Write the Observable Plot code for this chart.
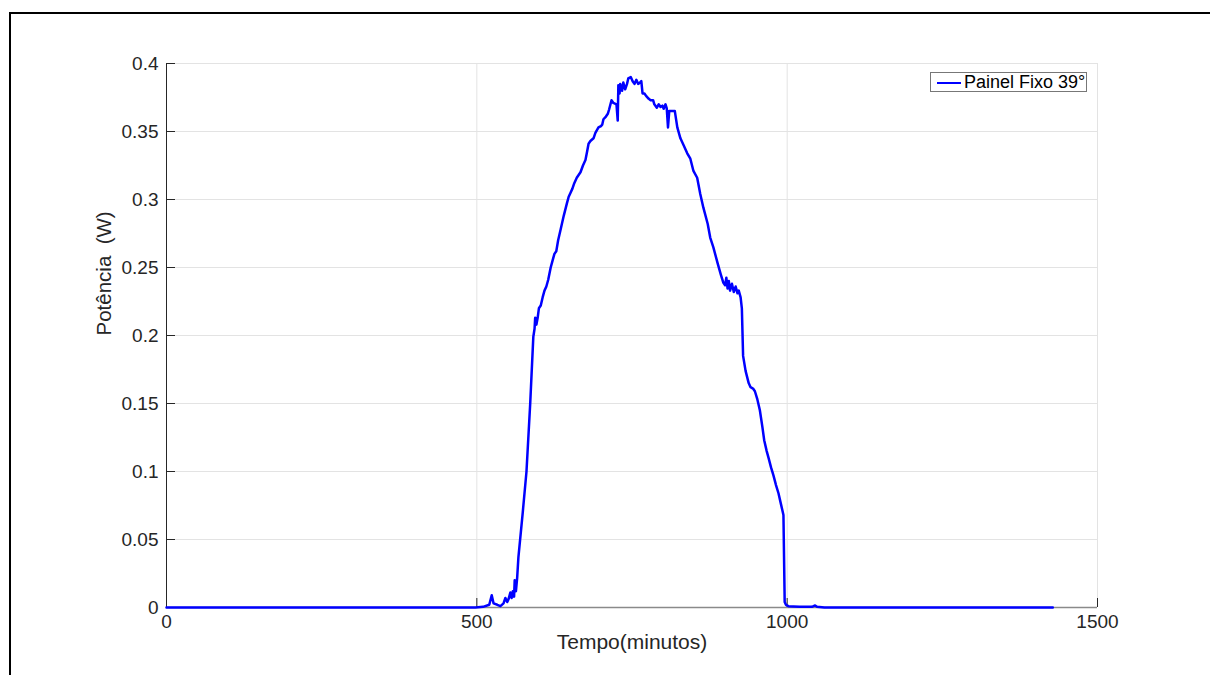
<!DOCTYPE html>
<html>
<head>
<meta charset="utf-8">
<script src="https://cdn.jsdelivr.net/npm/d3@7"></script>
<script src="https://cdn.jsdelivr.net/npm/@observablehq/plot@0.6"></script>
<style>
  html, body { margin: 0; padding: 0; background: #fff; }
  #wrap { position: relative; width: 1210px; height: 675px; overflow: hidden; font-family: "Liberation Sans", Arial, Helvetica, sans-serif; }
  #frame { position: absolute; left: 9px; top: 12px; width: 1300px; height: 800px; border-left: 2px solid #000; border-top: 2px solid #000; }
  #chart { position: absolute; left: 0; top: 0; }
  #legend { position: absolute; left: 930px; top: 72px; width: 157px; height: 20px; border: 1px solid #777; background: #fff; box-sizing: border-box; }
  #legend .sw { position: absolute; left: 6px; top: 9px; width: 24px; height: 0; border-top: 2.5px solid #0000ff; }
  #legend .lb { position: absolute; left: 33px; top: -2px; font-size: 18px; color: #000; white-space: nowrap; line-height: 22px; }
</style>
</head>
<body>
<div id="wrap">
  <div id="frame"></div>
  <div id="chart"></div>
  <div id="legend"><div class="sw"></div><div class="lb"></div></div>
</div>
<script>
// Time in minutes and power in W
const minutes = [0, 498, 510, 520, 524, 527, 533, 538, 543, 546, 549, 551, 554, 556, 558, 560, 561, 563, 565, 567, 574, 580, 586, 591, 593, 594, 596, 598, 600, 603, 606, 609, 612, 615, 619, 622, 625, 628, 631, 635, 640, 645, 648, 651, 654, 657, 661, 664, 667, 671, 675, 678, 680, 683, 688, 691, 696, 700, 702, 704, 708, 711, 713, 717, 720, 725, 727, 728, 730, 731, 734, 736, 739, 742, 744, 748, 751, 754, 757, 760, 763, 765, 767, 770, 773, 777, 780, 784, 786, 790, 793, 796, 799, 801, 804, 806, 808, 810, 815, 819, 823, 828, 833, 839, 844, 849, 855, 860, 865, 872, 876, 881, 888, 893, 897, 900, 902, 904, 906, 908, 911, 914, 917, 920, 922, 925, 927, 929, 933, 938, 941, 945, 948, 952, 956, 960, 963, 967, 970, 974, 978, 982, 986, 990, 994, 996, 998, 1002, 1010, 1020, 1040, 1045, 1048, 1060, 1428];
const power = [0, 0, 0.0005, 0.002, 0.009, 0.003, 0.002, 0.001, 0.003, 0.007, 0.004, 0.006, 0.011, 0.007, 0.012, 0.008, 0.02, 0.012, 0.022, 0.037, 0.07, 0.1, 0.15, 0.199, 0.205, 0.213, 0.208, 0.213, 0.22, 0.222, 0.228, 0.233, 0.236, 0.241, 0.25, 0.255, 0.26, 0.262, 0.27, 0.278, 0.288, 0.297, 0.302, 0.305, 0.308, 0.312, 0.316, 0.318, 0.32, 0.325, 0.329, 0.336, 0.341, 0.343, 0.345, 0.349, 0.353, 0.354, 0.355, 0.359, 0.361, 0.363, 0.366, 0.373, 0.371, 0.37, 0.358, 0.384, 0.378, 0.385, 0.38, 0.386, 0.381, 0.385, 0.389, 0.39, 0.387, 0.385, 0.388, 0.385, 0.386, 0.387, 0.378, 0.378, 0.376, 0.374, 0.373, 0.373, 0.37, 0.3675, 0.37, 0.368, 0.369, 0.3667, 0.37, 0.367, 0.353, 0.365, 0.365, 0.365, 0.353, 0.345, 0.34, 0.334, 0.33, 0.321, 0.316, 0.304, 0.294, 0.282, 0.272, 0.265, 0.253, 0.245, 0.239, 0.237, 0.2425, 0.2345, 0.24, 0.233, 0.238, 0.232, 0.236, 0.231, 0.233, 0.228, 0.22, 0.185, 0.174, 0.165, 0.162, 0.161, 0.159, 0.153, 0.145, 0.133, 0.123, 0.115, 0.11, 0.103, 0.097, 0.09, 0.084, 0.076, 0.068, 0.004, 0.002, 0.001, 0.0008, 0.0005, 0.0005, 0.0015, 0.0005, 0, 0];

const xTicks = [0, 500, 1000, 1500];
const yTicks = [0, 0.05, 0.1, 0.15, 0.2, 0.25, 0.3, 0.35, 0.4];
const xTickLabels = ["0", "500", "1000", "1500"];
const yTickLabels = ["0", "0.05", "0.1", "0.15", "0.2", "0.25", "0.3", "0.35", "0.4"];
const xTitle = "Tempo(minutos)";
const yTitle = "Potência\u00a0 (W)";
const seriesName = "Painel Fixo 39°";

const data = minutes.map((m, i) => ({minute: m, power: power[i]}));

const W = 1210, H = 675;
const mL = 166, mR = 113, mT = 63, mB = 68;
const plotW = W - mL - mR, plotH = H - mT - mB;
const tickLen = 9;
const ink = "#262626";

const chart = Plot.plot({
  width: W,
  height: H,
  marginLeft: mL,
  marginRight: mR,
  marginTop: mT,
  marginBottom: mB,
  style: {fontFamily: '"Liberation Sans", Arial, Helvetica, sans-serif', background: "transparent"},
  x: {domain: [0, 1500]},
  y: {domain: [0, 0.4]},
  marks: [
    // grid
    Plot.ruleY(yTicks, {stroke: "#e3e3e3", strokeWidth: 1}),
    Plot.ruleX(xTicks, {stroke: "#e3e3e3", strokeWidth: 1}),
    // axis lines
    Plot.ruleX([0], {stroke: ink, strokeWidth: 1}),
    Plot.ruleY([0], {stroke: "#8a8a8a", strokeWidth: 1.5}),
    // inward tick marks
    Plot.tickY(yTicks, {y: d => d, stroke: ink, strokeWidth: 1, insetRight: plotW - tickLen}),
    Plot.tickX(xTicks, {x: d => d, stroke: ink, strokeWidth: 1, insetTop: plotH - tickLen}),
    // tick labels
    Plot.axisY(yTicks, {tickSize: 0, tickPadding: 8, fontSize: 19, color: ink, label: null, tickFormat: (d, i) => yTickLabels[i]}),
    Plot.axisX(xTicks, {tickSize: 0, tickPadding: 7, fontSize: 19, color: ink, label: null, tickFormat: (d, i) => xTickLabels[i]}),
    // titles
    Plot.text([xTitle], {frameAnchor: "bottom", dy: 41, fontSize: 21, fill: ink, text: d => d}),
    Plot.text([yTitle], {frameAnchor: "left", dx: -62, rotate: -90, fontSize: 20.5, fill: ink, text: d => d}),
    // data
    Plot.line(data, {x: "minute", y: "power", stroke: "#0000ff", strokeWidth: 2.5, strokeLinejoin: "round", curve: "linear"})
  ]
});
document.getElementById("chart").appendChild(chart);
document.querySelector("#legend .lb").textContent = seriesName;
</script>
</body>
</html>
